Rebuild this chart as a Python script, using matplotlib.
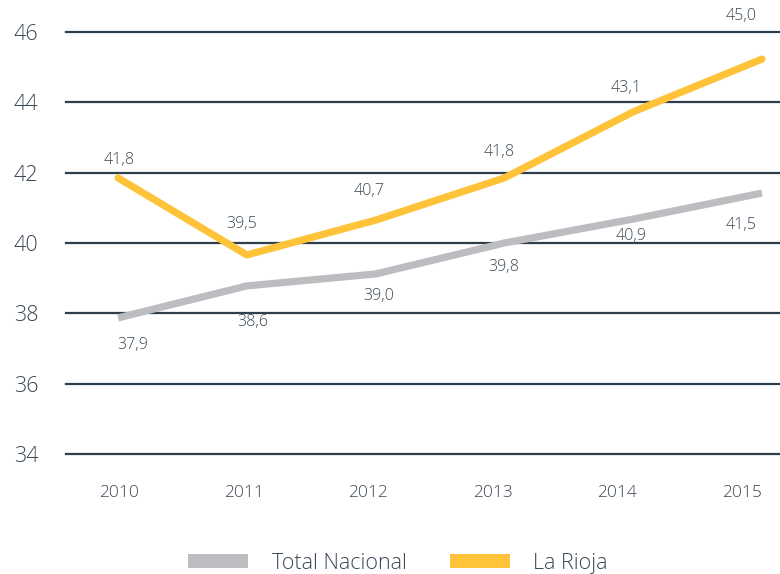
import matplotlib
matplotlib.use("Agg")
import matplotlib.pyplot as plt
from matplotlib.patches import Patch

# ---- data ----
years = ["2010", "2011", "2012", "2013", "2014", "2015"]
total_line = [37.87, 38.78, 39.12, 40.0, 40.68, 41.42]
rioja_line = [41.85, 39.66, 40.65, 41.85, 43.73, 45.23]
total_labels = [37.9, 38.6, 39.0, 39.8, 40.9, 41.5]
rioja_labels = [41.8, 39.5, 40.7, 41.8, 43.1, 45.0]
yticks = [34, 36, 38, 40, 42, 44, 46]
series_names = ["Total Nacional", "La Rioja"]

# label offsets in pixels (dx, dy)
rioja_off = [(0, 20), (-2, 37), (1, 27), (6, 28), (9, 46), (-1, 51)]
total_off = [(14, -28), (9, -30), (11, -18), (11, -17), (14, -25), (-1, -35)]

GRAY = "#bdbdc1"
YELLOW = "#ffc33a"
GRID = "#2f3e4b"
TXT = "#3a4754"

plt.rcParams["font.family"] = ["Open Sans", "DejaVu Sans"]
plt.rcParams["font.weight"] = "light"

fig = plt.figure(figsize=(7.8, 5.74), dpi=100)
W, H = 780, 574
left, right, top, bottom = 66, 780, 32, 454
ax = fig.add_axes([left / W, 1 - bottom / H, (right - left) / W, (bottom - top) / H])
x = list(range(len(years)))
ax.set_xlim(-0.425, 5.305)
ax.set_ylim(34, 46)
for v in yticks:
    ax.axhline(v, color=GRID, lw=1.6, clip_on=False, zorder=1)
for s in ax.spines.values():
    s.set_visible(False)
ax.set_xticks(x)
ax.set_xticklabels(years)
ax.set_yticks(yticks)
ax.set_yticklabels([str(v) for v in yticks])
ax.tick_params(axis="y", length=0, pad=20, labelsize=15.5, labelcolor=TXT)
ax.tick_params(axis="x", length=0, pad=22, labelsize=12.5, labelcolor=TXT)
ax.patch.set_alpha(0)

# line axes (slightly wider spacing, as in the reference)
lax = fig.add_axes(ax.get_position())
lax.set_xlim(-0.404, 5.14)
lax.set_ylim(34, 46)
lax.axis("off")
lax.plot(x, total_line, color=GRAY, lw=5.2, solid_capstyle="butt", solid_joinstyle="miter", zorder=3)
lax.plot(x, rioja_line, color=YELLOW, lw=5.2, solid_capstyle="round", solid_joinstyle="round", zorder=4)

def fmt(v):
    return f"{v:.1f}".replace(".", ",")

for i in x:
    ax.annotate(fmt(rioja_labels[i]), (i, rioja_labels[i]), xytext=rioja_off[i],
                textcoords="offset pixels", ha="center", va="center", fontsize=11.5, color=TXT)
    ax.annotate(fmt(total_labels[i]), (i, total_labels[i]), xytext=total_off[i],
                textcoords="offset pixels", ha="center", va="center", fontsize=11.5, color=TXT)

handles = [Patch(facecolor=GRAY, edgecolor="none"), Patch(facecolor=YELLOW, edgecolor="none")]
fig.legend(handles, series_names, loc="center", bbox_to_anchor=(0.510, 0.019), ncol=2,
           frameon=False, fontsize=15.5, labelcolor=TXT, handlelength=2.8, handleheight=0.65,
           handletextpad=1.1, columnspacing=2.0)

fig.savefig("out.png", dpi=100)
